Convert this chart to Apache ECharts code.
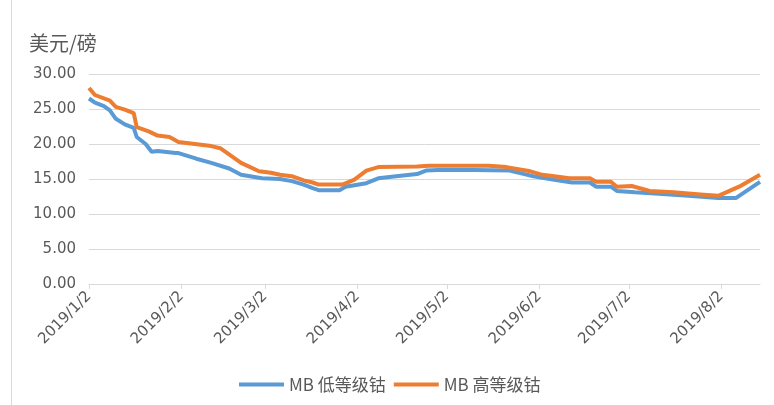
<!DOCTYPE html>
<html>
<head>
<meta charset="utf-8">
<script src="https://cdn.jsdelivr.net/npm/echarts@6/dist/echarts.min.js"></script>
<style>html,body{margin:0;padding:0;background:#fff;}#c{width:774px;height:405px;}</style>
</head>
<body>
<div id="c"></div>
<script>
// Categories: daily dates from 2019/1/2 to 2019/8/15
const startDate = [2019, 1, 2];
const endDate = [2019, 8, 15];
const yTicks = [0, 5, 10, 15, 20, 25, 30];
const seriesNames = ["MB 低等级钴", "MB 高等级钴"];

const lowDates = ["2019/1/2","2019/1/4","2019/1/7","2019/1/9","2019/1/11","2019/1/14","2019/1/17","2019/1/18","2019/1/21","2019/1/23","2019/1/25","2019/1/31","2019/2/1","2019/2/7","2019/2/12","2019/2/18","2019/2/22","2019/3/1","2019/3/7","2019/3/11","2019/3/15","2019/3/18","2019/3/20","2019/3/27","2019/3/29","2019/4/5","2019/4/9","2019/4/15","2019/4/22","2019/4/25","2019/4/29","2019/5/11","2019/5/23","2019/5/28","2019/5/31","2019/6/7","2019/6/13","2019/6/19","2019/6/21","2019/6/26","2019/6/28","2019/7/4","2019/7/12","2019/7/22","2019/8/1","2019/8/7","2019/8/15"];
const lowValues = [26.5,25.9,25.4,24.8,23.6,22.8,22.3,21.0,20.0,18.9,19.0,18.7,18.7,17.9,17.3,16.5,15.6,15.1,15.0,14.7,14.2,13.7,13.4,13.4,13.9,14.4,15.1,15.4,15.7,16.2,16.3,16.3,16.2,15.7,15.4,14.9,14.5,14.5,13.9,13.9,13.3,13.1,12.9,12.6,12.3,12.3,14.6];

const highDates = ["2019/1/2","2019/1/4","2019/1/9","2019/1/11","2019/1/14","2019/1/17","2019/1/18","2019/1/22","2019/1/25","2019/1/29","2019/2/1","2019/2/12","2019/2/15","2019/2/22","2019/2/28","2019/3/4","2019/3/7","2019/3/11","2019/3/15","2019/3/18","2019/3/20","2019/3/28","2019/4/1","2019/4/5","2019/4/9","2019/4/22","2019/4/26","2019/5/16","2019/5/22","2019/5/30","2019/6/3","2019/6/7","2019/6/12","2019/6/19","2019/6/21","2019/6/26","2019/6/28","2019/7/3","2019/7/9","2019/7/17","2019/7/26","2019/8/1","2019/8/8","2019/8/15"];
const highValues = [28.0,27.0,26.2,25.3,24.9,24.4,22.4,21.8,21.2,21.0,20.3,19.7,19.4,17.3,16.1,15.9,15.6,15.4,14.8,14.5,14.2,14.2,14.9,16.2,16.7,16.8,16.9,16.9,16.7,16.1,15.6,15.4,15.1,15.1,14.6,14.6,13.9,14.0,13.3,13.1,12.8,12.6,13.9,15.6];

const categories = [];
{
  let d = new Date(startDate[0], startDate[1]-1, startDate[2]);
  const e = new Date(endDate[0], endDate[1]-1, endDate[2]);
  while (d <= e) {
    categories.push(d.getFullYear() + "/" + (d.getMonth()+1) + "/" + d.getDate());
    d = new Date(d.getFullYear(), d.getMonth(), d.getDate()+1);
  }
}
const pair = (ds, vs) => ds.map((d, i) => [d, vs[i]]);
const isMonthTick = (idx, val) => /\/2$/.test(val) && !/\/\d2$/.test(val);

const chart = echarts.init(document.getElementById('c'));
chart.setOption({
  animation: false,
  backgroundColor: '#fff',
  grid: { left: 89, right: 14, top: 74, bottom: 121 },
  graphic: [
    { type: 'rect', shape: { x: 11.5, y: -10, width: 900, height: 600 }, style: { fill: 'none', stroke: '#d9d9d9', lineWidth: 1 } },
    { type: 'text', left: 29, top: 33, style: { text: '美元/磅', fontSize: 20, fill: '#595959', fontFamily: 'Noto Sans CJK SC' } }
  ],
  legend: {
    bottom: 7, left: 234,
    icon: 'rect', itemWidth: 45, itemHeight: 4, itemGap: 8,
    textStyle: { fontSize: 17, color: '#595959', fontFamily: 'Noto Sans CJK SC' },
    data: seriesNames
  },
  xAxis: {
    type: 'category',
    data: categories,
    boundaryGap: false,
    axisLine: { lineStyle: { color: '#d9d9d9', width: 1 } },
    axisTick: { interval: isMonthTick, length: 5, lineStyle: { color: '#d9d9d9' } },
    axisLabel: { interval: isMonthTick, rotate: 45, color: '#595959', fontSize: 15, fontFamily: 'DejaVu Sans', margin: 10 },
    splitLine: { show: false }
  },
  yAxis: {
    type: 'value', min: 0, max: 30, interval: 5,
    axisLine: { show: false }, axisTick: { show: false },
    axisLabel: { formatter: v => v.toFixed(2), color: '#595959', fontSize: 15, fontFamily: 'DejaVu Sans', margin: 13 },
    splitLine: { lineStyle: { color: '#d9d9d9', width: 1 } }
  },
  series: [
    { name: seriesNames[0], type: 'line', data: pair(lowDates, lowValues), symbol: 'none', lineStyle: { width: 4, color: '#5B9BD5' }, itemStyle: { color: '#5B9BD5' } },
    { name: seriesNames[1], type: 'line', data: pair(highDates, highValues), symbol: 'none', lineStyle: { width: 4, color: '#ED7D31' }, itemStyle: { color: '#ED7D31' } }
  ]
});
</script>
</body>
</html>
